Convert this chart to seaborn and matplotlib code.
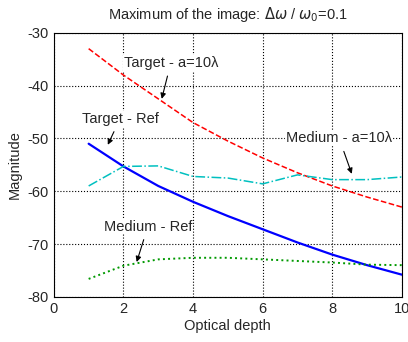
import matplotlib
matplotlib.use("Agg")
import matplotlib.pyplot as plt
import seaborn as sns
import pandas as pd

# optical depth
depth = [1, 2, 3, 4, 5, 6, 7, 8, 9, 10]
# magnitudes
target_a10 = [-33, -38, -42.5, -47, -50.5, -53.7, -56.5, -59, -61.1, -63]
target_ref = [-51, -55.3, -59, -62, -64.7, -67.2, -69.7, -72, -74, -75.8]
medium_a10 = [-59, -55.3, -55.2, -57.2, -57.5, -58.6, -56.9, -57.8, -57.8, -57.3]
medium_ref = [-76.6, -74.1, -72.9, -72.6, -72.6, -72.9, -73.2, -73.5, -73.9, -74]

sns.set_style("white")
plt.rcParams['font.family'] = ['Liberation Sans', 'DejaVu Sans']
plt.rcParams['mathtext.fontset'] = 'dejavusans'
plt.rcParams['axes.unicode_minus'] = False

fs = 10.5
fig = plt.figure(figsize=(4.08, 3.42), dpi=100)
ax = fig.add_axes([0.132, 0.132, 0.853, 0.772])

df = pd.DataFrame({'depth': depth, 'ta': target_a10, 'tr': target_ref,
                   'ma': medium_a10, 'mr': medium_ref})

sns.lineplot(data=df, x='depth', y='ta', ax=ax, color='red', linestyle='--', linewidth=1.1)
sns.lineplot(data=df, x='depth', y='tr', ax=ax, color='blue', linestyle='-', linewidth=1.6)
sns.lineplot(data=df, x='depth', y='ma', ax=ax, color='#00c0c0', linestyle='-.', linewidth=1.1)
sns.lineplot(data=df, x='depth', y='mr', ax=ax, color='#009900', linestyle=':', linewidth=1.4)

ax.set_xlim(0, 10)
ax.set_ylim(-80, -30)
ax.set_xticks([0, 2, 4, 6, 8, 10])
ax.set_yticks([-80, -70, -60, -50, -40, -30])
ax.grid(True, color='black', linestyle=':', linewidth=0.8)
ax.tick_params(direction='in', labelsize=fs, length=3, pad=4)
for s in ax.spines.values():
    s.set_color('black')
    s.set_linewidth(0.8)

ax.set_xlabel('Optical depth', fontsize=fs, labelpad=2)
ax.set_ylabel('Magnitude', fontsize=fs, labelpad=4)
ax.set_title(r'Maximum of the image: $\Delta\omega$ / $\omega_0$=0.1', fontsize=fs, pad=10)

arrow = dict(arrowstyle='-|>', color='black', lw=0.8, mutation_scale=8, shrinkA=4, shrinkB=0)
box = dict(fc='white', ec='none', pad=0.5)
ax.annotate('Target - a=10λ', xy=(3.1, -42.5), xytext=(3.36, -35.7),
            ha='center', va='center', fontsize=fs, arrowprops=arrow, bbox=box)
ax.annotate('Target - Ref', xy=(1.55, -51.2), xytext=(1.9, -46.3),
            ha='center', va='center', fontsize=fs, arrowprops=arrow, bbox=box)
ax.annotate('Medium - a=10λ', xy=(8.56, -56.7), xytext=(8.2, -50),
            ha='center', va='center', fontsize=fs, arrowprops=arrow, bbox=box)
ax.annotate('Medium - Ref', xy=(2.38, -73.4), xytext=(2.7, -66.7),
            ha='center', va='center', fontsize=fs, arrowprops=arrow, bbox=box)

fig.savefig('out.png', dpi=100)
